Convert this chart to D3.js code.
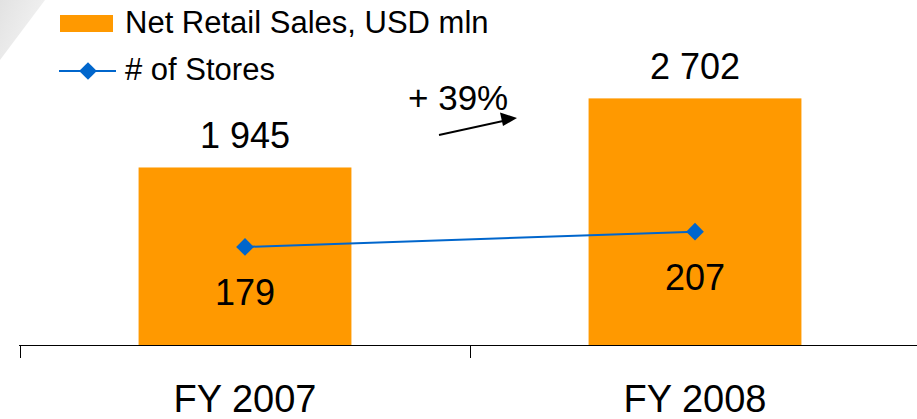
<!DOCTYPE html>
<html>
<head>
<meta charset="utf-8">
<script src="https://cdn.jsdelivr.net/npm/d3@7"></script>
<style>
  html, body { margin: 0; padding: 0; background: #fff; }
  svg { display: block; font-family: "Liberation Sans", Arial, sans-serif; }
</style>
</head>
<body>
<svg id="chart" width="917" height="419"></svg>
<script>
const years = ['FY 2007', 'FY 2008'];
const sales = [1945, 2702];
const stores = [179, 207];
const growthLabel = '+ 39%';
const legendLabels = ['Net Retail Sales, USD mln', '# of Stores'];

const width = 917;
const height = 419;
const baseY = 345;
const svg = d3.select('#chart');

const fmtSpace = d3.formatLocale({ decimal: '.', thousands: ' ', grouping: [3], currency: ['', ''] }).format(',d');

// category bands share the axis ticks at their edges
const x = d3.scaleBand().domain(years).range([20, 920]).padding(0);
const barW = x.bandwidth() * 0.473;
const ySales = d3.scaleLinear().domain([0, 3780]).range([baseY, 0]);
const yStores = d3.scaleLinear().domain([0, 630]).range([baseY, 0]);
const cx = (d) => x(d) + x.bandwidth() / 2;

// faint grey corner decoration
const defs = svg.append('defs');
const grad = defs.append('linearGradient').attr('id', 'corner')
  .attr('x1', 0).attr('y1', 0).attr('x2', 1).attr('y2', 0.6);
grad.append('stop').attr('offset', 0).attr('stop-color', '#e2e2e2');
grad.append('stop').attr('offset', 1).attr('stop-color', '#f4f4f4');
svg.append('path').attr('d', 'M0,0L45,0L0,60Z').attr('fill', 'url(#corner)');

// bars
svg.append('g').selectAll('rect').data(years).join('rect')
  .attr('x', (d) => cx(d) - barW / 2)
  .attr('width', barW)
  .attr('y', (d, i) => ySales(sales[i]))
  .attr('height', (d, i) => baseY - ySales(sales[i]))
  .attr('fill', '#FF9900');

// axis: baseline + ticks at band edges
const axis = svg.append('g').attr('stroke', '#000').attr('stroke-width', 1).attr('shape-rendering', 'crispEdges');
axis.append('line').attr('x1', 19).attr('x2', width).attr('y1', baseY + 0.5).attr('y2', baseY + 0.5);
axis.selectAll('line.tick').data([...years.map((d) => x(d)), x.range()[1]]).join('line')
  .attr('class', 'tick')
  .attr('x1', (d) => d + 0.5).attr('x2', (d) => d + 0.5)
  .attr('y1', baseY).attr('y2', baseY + 13);

svg.append('g').selectAll('text').data(years).join('text')
  .attr('x', (d) => cx(d)).attr('y', 412)
  .attr('text-anchor', 'middle').attr('font-size', 38).attr('fill', '#000')
  .text((d) => d);

// value labels above bars
svg.append('g').selectAll('text').data(years).join('text')
  .attr('x', (d) => cx(d)).attr('y', (d, i) => ySales(sales[i]) - 19)
  .attr('text-anchor', 'middle').attr('font-size', 36).attr('fill', '#000')
  .text((d, i) => fmtSpace(sales[i]));

// stores line
const pts = years.map((d, i) => [cx(d), yStores(stores[i])]);
svg.append('path').attr('d', d3.line()(pts))
  .attr('fill', 'none').attr('stroke', '#0066CC').attr('stroke-width', 2);
const diamond = d3.symbol().type(d3.symbolDiamond2).size(200);
svg.append('g').selectAll('path').data(pts).join('path')
  .attr('transform', (p) => `translate(${p[0]},${p[1]})`)
  .attr('d', diamond).attr('fill', '#0066CC');

svg.append('g').selectAll('text').data(years).join('text')
  .attr('x', (d) => cx(d)).attr('y', (d, i) => yStores(stores[i]) + 58)
  .attr('text-anchor', 'middle').attr('font-size', 36).attr('fill', '#000')
  .text((d, i) => stores[i]);

// growth annotation
svg.append('text').attr('x', 408).attr('y', 110).attr('font-size', 35).attr('fill', '#000').text(growthLabel);
svg.append('line').attr('x1', 439).attr('y1', 135).attr('x2', 510).attr('y2', 119.5)
  .attr('stroke', '#000').attr('stroke-width', 1.8);
svg.append('path').attr('d', 'M517,118L500,112.5L503,126Z').attr('fill', '#000');

// legend
const legend = svg.append('g');
legend.append('rect').attr('x', 60).attr('y', 15).attr('width', 53).attr('height', 17).attr('fill', '#FF9900');
legend.append('text').attr('x', 125).attr('y', 33).attr('font-size', 31).attr('fill', '#000').text(legendLabels[0]);
legend.append('line').attr('x1', 59).attr('x2', 116).attr('y1', 71).attr('y2', 71)
  .attr('stroke', '#0066CC').attr('stroke-width', 2);
legend.append('path').attr('transform', 'translate(88,71)').attr('d', diamond).attr('fill', '#0066CC');
legend.append('text').attr('x', 125).attr('y', 80).attr('font-size', 31).attr('fill', '#000').text(legendLabels[1]);
</script>
</body>
</html>
